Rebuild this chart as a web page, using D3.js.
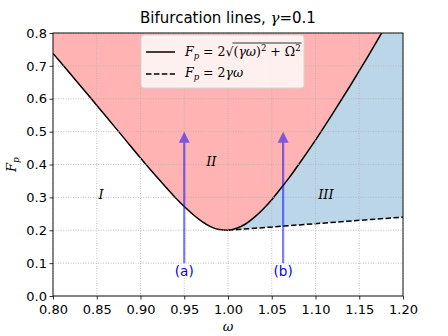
<!DOCTYPE html>
<html>
<head>
<meta charset="utf-8">
<script src="https://cdn.jsdelivr.net/npm/d3@7"></script>
<style>
  body { margin: 0; background: #fff; }
  text { font-family: "DejaVu Sans", sans-serif; }
  .math { font-family: "DejaVu Serif", serif; font-style: italic; }
  .grid line { stroke: #b0b0b0; stroke-dasharray: 1 1.5; stroke-width: 0.8; }
</style>
</head>
<body>
<div id="chart"></div>
<script>
// Solid bifurcation line
const omega = [0.80, 0.82, 0.84, 0.86, 0.88, 0.90, 0.92, 0.94, 0.95, 0.96, 0.97, 0.98, 0.99,
  1.00, 1.01, 1.02, 1.03, 1.04, 1.05, 1.06, 1.07, 1.08, 1.10, 1.12, 1.14, 1.16, 1.18];
const fSolid = [0.738, 0.675, 0.612, 0.548, 0.484, 0.420, 0.358, 0.299, 0.272, 0.248, 0.227, 0.211, 0.202,
  0.200, 0.206, 0.219, 0.239, 0.264, 0.293, 0.326, 0.360, 0.397, 0.474, 0.556, 0.641, 0.729, 0.820];

// Dashed line
const omegaDash = [1.00, 1.20];
const fDash = [0.20, 0.24];

// Arrows and region labels
const arrowX = [0.95, 1.063];
const arrowLabels = ["(a)", "(b)"];
const arrowFrom = 0.10, arrowTo = 0.50;
const regionNames = ["I", "II", "III"];
const regionX = [0.852, 0.975, 1.103];
const regionY = [0.31, 0.41, 0.31];

const xTicks = [0.80, 0.85, 0.90, 0.95, 1.00, 1.05, 1.10, 1.15, 1.20];
const yTicks = [0.0, 0.1, 0.2, 0.3, 0.4, 0.5, 0.6, 0.7, 0.8];

const W = 448, H = 336;
const margin = { top: 33, right: 45, bottom: 40, left: 53 };
const width = W - margin.left - margin.right;
const height = H - margin.top - margin.bottom;

const svg = d3.select("#chart").append("svg")
  .attr("width", W).attr("height", H);

const x = d3.scaleLinear().domain([0.8, 1.2]).range([0, width]);
const y = d3.scaleLinear().domain([0, 0.8]).range([height, 0]);

svg.append("defs").append("clipPath").attr("id", "clip")
  .append("rect").attr("width", width).attr("height", height);

const g = svg.append("g").attr("transform", `translate(${margin.left},${margin.top})`);
const plot = g.append("g").attr("clip-path", "url(#clip)");

const solid = omega.map((w, i) => ({ x: w, y: fSolid[i] }));

// Region II (above the solid line)
plot.append("path")
  .datum(solid)
  .attr("fill", "#ffb3b3")
  .attr("d", d3.area().x(d => x(d.x)).y0(d => y(d.y)).y1(y(0.8)));

// Region III (between dashed and solid line)
const blue = omegaDash.map((w, i) => ({ x: w, y: fDash[i] }))
  .concat([{ x: 1.2, y: 0.9 }])
  .concat(solid.filter(d => d.x >= 1.0).reverse());
plot.append("path")
  .datum(blue)
  .attr("fill", "#bcd6e9")
  .attr("d", d3.line().x(d => x(d.x)).y(d => y(d.y)).curve(d3.curveLinearClosed));

// Grid
g.append("g").attr("class", "grid")
  .selectAll("line").data(xTicks).join("line")
  .attr("x1", d => x(d)).attr("x2", d => x(d)).attr("y1", 0).attr("y2", height);
g.append("g").attr("class", "grid")
  .selectAll("line").data(yTicks).join("line")
  .attr("y1", d => y(d)).attr("y2", d => y(d)).attr("x1", 0).attr("x2", width);

// Lines
plot.append("path")
  .datum(solid)
  .attr("fill", "none").attr("stroke", "#000").attr("stroke-width", 1.5)
  .attr("d", d3.line().x(d => x(d.x)).y(d => y(d.y)).curve(d3.curveMonotoneX));
plot.append("path")
  .datum(omegaDash.map((w, i) => ({ x: w, y: fDash[i] })))
  .attr("fill", "none").attr("stroke", "#000").attr("stroke-width", 1.5)
  .attr("stroke-dasharray", "5.5 2.4")
  .attr("d", d3.line().x(d => x(d.x)).y(d => y(d.y)));

// Arrows
arrowX.forEach((a, i) => {
  const ag = g.append("g").attr("opacity", 0.5);
  ag.append("line")
    .attr("x1", x(a)).attr("x2", x(a))
    .attr("y1", y(arrowFrom)).attr("y2", y(arrowTo) + 9)
    .attr("stroke", "#0000ff").attr("stroke-width", 2.2);
  ag.append("path")
    .attr("fill", "#0000ff")
    .attr("d", `M${x(a)},${y(arrowTo)} L${x(a) - 5.5},${y(arrowTo) + 11} L${x(a) + 5.5},${y(arrowTo) + 11} Z`);
  g.append("text")
    .attr("x", x(a)).attr("y", y(arrowFrom) + 12.5)
    .attr("text-anchor", "middle")
    .attr("fill", "#0000ff").attr("font-size", 13.5)
    .text(arrowLabels[i]);
});

// Region labels
regionNames.forEach((r, i) => {
  g.append("text").attr("class", "math")
    .attr("x", x(regionX[i])).attr("y", y(regionY[i]) + 4.5)
    .attr("font-size", 13)
    .text(r);
});

// Axes
const gX = g.append("g").attr("transform", `translate(0,${height})`)
  .call(d3.axisBottom(x).tickValues(xTicks).tickFormat(d3.format(".2f")).tickSizeOuter(0).tickSize(3.5));
const gY = g.append("g")
  .call(d3.axisLeft(y).tickValues(yTicks).tickFormat(d3.format(".1f")).tickSizeOuter(0).tickSize(3.5));
[gX, gY].forEach(a => {
  a.select(".domain").remove();
  a.selectAll("text").attr("font-size", 13).attr("fill", "#000")
    .style("font-family", "'DejaVu Sans', sans-serif");
  a.selectAll("line").attr("stroke", "#000").attr("stroke-width", 0.8);
});
gX.selectAll("text").attr("dy", "0.85em");
gY.selectAll("text").attr("x", -6);
g.append("rect").attr("width", width).attr("height", height)
  .attr("fill", "none").attr("stroke", "#000").attr("stroke-width", 0.9);

// Axis labels
svg.append("text").attr("class", "math")
  .attr("x", margin.left + width / 2).attr("y", 331)
  .attr("text-anchor", "middle").attr("font-size", 13)
  .text("ω");
const yl = svg.append("text").attr("class", "math")
  .attr("transform", `translate(16,${margin.top + height / 2}) rotate(-90)`)
  .attr("text-anchor", "middle").attr("font-size", 13);
yl.append("tspan").text("F");
yl.append("tspan").attr("font-size", 9).attr("dy", 3).text("p");

// Title
const title = svg.append("text")
  .attr("x", margin.left + width / 2).attr("y", 23)
  .attr("text-anchor", "middle").attr("font-size", 15);
title.append("tspan").text("Bifurcation lines, ");
title.append("tspan").style("font-family", "'DejaVu Serif', serif").style("font-style", "italic").text("γ");
title.append("tspan").text("=0.1");

// Legend
const lg = g.append("g").attr("transform", `translate(${141 - margin.left},2)`);
lg.append("rect").attr("width", 163).attr("height", 53).attr("rx", 3)
  .attr("fill", "#fff").attr("fill-opacity", 0.8).attr("stroke", "#d6d6d6");
lg.append("line").attr("x1", 5).attr("x2", 34).attr("y1", 17).attr("y2", 17)
  .attr("stroke", "#000").attr("stroke-width", 1.5);
lg.append("line").attr("x1", 5).attr("x2", 34).attr("y1", 39).attr("y2", 39)
  .attr("stroke", "#000").attr("stroke-width", 1.5).attr("stroke-dasharray", "5.5 2.4");

function fp(parent, yy) {
  const t = parent.append("text").attr("class", "math").attr("x", 44).attr("y", yy).attr("font-size", 12.5);
  t.append("tspan").text("F");
  t.append("tspan").attr("font-size", 8.5).attr("dy", 3).text("p");
  return t;
}
const t1 = fp(lg, 21);
t1.append("tspan").attr("dy", -3).style("font-style", "normal").text(" = 2");
t1.append("tspan").style("font-style", "normal").text("√");
t1.append("tspan").style("font-style", "normal").text("(");
t1.append("tspan").text("γω");
t1.append("tspan").style("font-style", "normal").text(")");
t1.append("tspan").attr("font-size", 8.5).attr("dy", -5).style("font-style", "normal").text("2");
t1.append("tspan").attr("dy", 5).style("font-style", "normal").text(" + Ω");
t1.append("tspan").attr("font-size", 8.5).attr("dy", -5).style("font-style", "normal").text("2");
const node = t1.node();
const start = node.getStartPositionOfChar(node.textContent.indexOf("(")).x;
const end = node.getEndPositionOfChar(node.textContent.length - 1).x;
lg.append("line").attr("x1", start - 1).attr("x2", end + 1).attr("y1", 8).attr("y2", 8)
  .attr("stroke", "#000").attr("stroke-width", 0.8);

const t2 = fp(lg, 42);
t2.append("tspan").attr("dy", -3).style("font-style", "normal").text(" = 2");
t2.append("tspan").text("γω");
</script>
</body>
</html>
